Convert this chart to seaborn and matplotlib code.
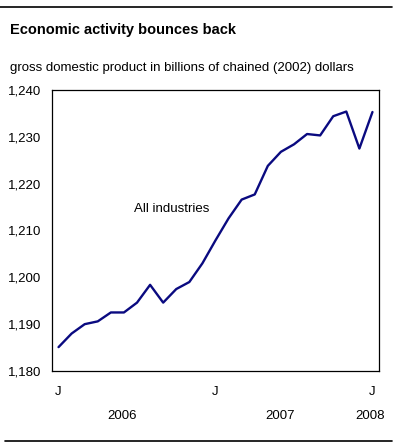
import matplotlib
matplotlib.use("Agg")
import matplotlib.pyplot as plt
import seaborn as sns
import pandas as pd

# monthly GDP, Jan 2006 .. Jan 2008
months = list(range(25))
gdp = [1185.1, 1188.0, 1190.0, 1190.6, 1192.5, 1192.5, 1194.6, 1198.4, 1194.6,
       1197.5, 1199.0, 1203.0, 1207.9, 1212.6, 1216.6, 1217.7, 1223.8, 1226.8,
       1228.4, 1230.6, 1230.3, 1234.4, 1235.4, 1227.5, 1235.3]
month_labels = ["J"] + [""] * 11 + ["J"] + [""] * 11 + ["J"]
years = ["2006", "2007", "2008"]
year_pos = [4.86, 16.9, 23.8]
yticks = [1180, 1190, 1200, 1210, 1220, 1230, 1240]

sns.set_style("white")
plt.rcParams["font.family"] = ["Liberation Sans", "DejaVu Sans"]
plt.rcParams["text.color"] = "black"
plt.rcParams["xtick.color"] = "black"
plt.rcParams["ytick.color"] = "black"

df = pd.DataFrame({"month": months, "gdp": gdp})

fig = plt.figure(figsize=(3.98, 4.46), dpi=100)
ax = fig.add_axes([52 / 398, 1 - 371 / 446, 327 / 398, 281 / 446])

sns.lineplot(data=df, x="month", y="gdp", ax=ax, color="#0a0a80", linewidth=1.7)

ax.set_xlim(-0.5, 24.5)
ax.set_ylim(1180, 1240)
ax.set_yticks(yticks)
ax.set_yticklabels([f"{v:,}" for v in yticks], fontsize=9.5)
ax.tick_params(axis="y", length=0, pad=8)

# month separators as small inward ticks
ax.set_xticks([m + 0.5 for m in months[:-1]], minor=True)
ax.tick_params(axis="x", which="minor", direction="in", length=3, width=0.8, color="black")
ax.set_xticks(months)
ax.set_xticklabels(month_labels, fontsize=9.5)
ax.tick_params(axis="x", which="major", length=0, pad=11)
ax.set_xlabel("")
ax.set_ylabel("")

for s in ax.spines.values():
    s.set_color("black")
    s.set_linewidth(0.9)

for yr, xp in zip(years, year_pos):
    ax.text(xp, -0.16, yr, transform=ax.get_xaxis_transform(), ha="center", va="center", fontsize=9.5)

ax.text(5.8, 1214.6, "All industries", ha="left", va="center", fontsize=9.5)

fig.text(10 / 398, 1 - 30 / 446, "Economic activity bounces back", fontsize=10.5,
         fontweight="bold", ha="left", va="center")
fig.text(10 / 398, 1 - 68 / 446, "gross domestic product in billions of chained (2002) dollars",
         fontsize=9.5, ha="left", va="center")

fig.add_artist(plt.Line2D([0, 392 / 398], [1 - 7 / 446, 1 - 7 / 446], color="black", linewidth=1.2))
fig.add_artist(plt.Line2D([5 / 398, 392 / 398], [1 - 441 / 446, 1 - 441 / 446], color="black", linewidth=1.2))

fig.savefig("out.png", dpi=100)
